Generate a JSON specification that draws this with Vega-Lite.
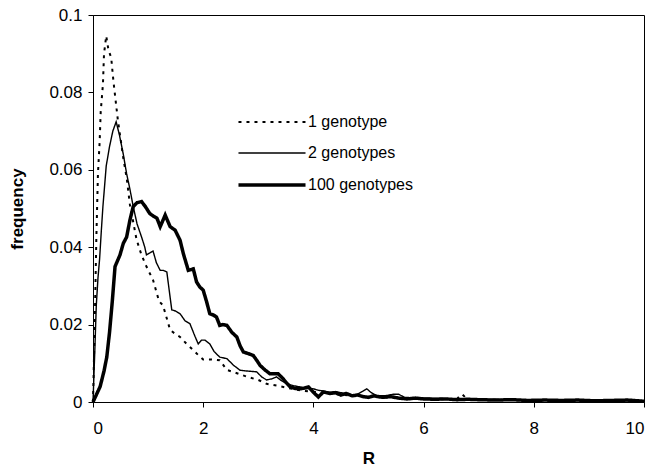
{
  "$schema": "https://vega.github.io/schema/vega-lite/v6.json",
  "autosize": "none",
  "padding": {"left": 93, "top": 15, "right": 24, "bottom": 72},
  "width": 551,
  "height": 387,
  "background": "white",
  "config": {
    "font": "Liberation Sans",
    "view": {"stroke": "black", "strokeWidth": 1},
    "axis": {"grid": false, "domainColor": "black", "tickColor": "black", "labelColor": "black", "titleColor": "black", "labelFont": "Liberation Sans", "titleFont": "Liberation Sans", "labelFontSize": 17, "titleFontSize": 17, "titleFontWeight": "bold", "tickSize": 5}
  },
  "data": {"values": [
    {"R":0,"f":0,"s":"1 genotype"},{"R":0.03,"f":0.019,"s":"1 genotype"},{"R":0.06,"f":0.042,"s":"1 genotype"},{"R":0.09,"f":0.059,"s":"1 genotype"},{"R":0.12,"f":0.067,"s":"1 genotype"},{"R":0.14,"f":0.075,"s":"1 genotype"},{"R":0.18,"f":0.082,"s":"1 genotype"},{"R":0.2,"f":0.09,"s":"1 genotype"},{"R":0.24,"f":0.0946,"s":"1 genotype"},{"R":0.28,"f":0.091,"s":"1 genotype"},{"R":0.33,"f":0.089,"s":"1 genotype"},{"R":0.37,"f":0.083,"s":"1 genotype"},{"R":0.41,"f":0.078,"s":"1 genotype"},{"R":0.45,"f":0.073,"s":"1 genotype"},{"R":0.55,"f":0.063,"s":"1 genotype"},{"R":0.61,"f":0.058,"s":"1 genotype"},{"R":0.67,"f":0.051,"s":"1 genotype"},{"R":0.79,"f":0.042,"s":"1 genotype"},{"R":0.88,"f":0.038,"s":"1 genotype"},{"R":0.97,"f":0.035,"s":"1 genotype"},{"R":1.09,"f":0.0315,"s":"1 genotype"},{"R":1.2,"f":0.026,"s":"1 genotype"},{"R":1.27,"f":0.025,"s":"1 genotype"},{"R":1.4,"f":0.0186,"s":"1 genotype"},{"R":1.5,"f":0.0175,"s":"1 genotype"},{"R":1.58,"f":0.0168,"s":"1 genotype"},{"R":1.7,"f":0.015,"s":"1 genotype"},{"R":1.82,"f":0.0134,"s":"1 genotype"},{"R":1.92,"f":0.012,"s":"1 genotype"},{"R":2.0,"f":0.011,"s":"1 genotype"},{"R":2.15,"f":0.011,"s":"1 genotype"},{"R":2.3,"f":0.0108,"s":"1 genotype"},{"R":2.43,"f":0.0083,"s":"1 genotype"},{"R":2.6,"f":0.0075,"s":"1 genotype"},{"R":2.8,"f":0.0065,"s":"1 genotype"},{"R":3.0,"f":0.0057,"s":"1 genotype"},{"R":3.15,"f":0.0047,"s":"1 genotype"},{"R":3.35,"f":0.0042,"s":"1 genotype"},{"R":3.55,"f":0.0036,"s":"1 genotype"},{"R":3.76,"f":0.003,"s":"1 genotype"},{"R":3.95,"f":0.0027,"s":"1 genotype"},{"R":4.15,"f":0.0024,"s":"1 genotype"},{"R":4.35,"f":0.0021,"s":"1 genotype"},{"R":4.55,"f":0.0018,"s":"1 genotype"},{"R":4.75,"f":0.0016,"s":"1 genotype"},{"R":4.95,"f":0.0014,"s":"1 genotype"},{"R":5.15,"f":0.0013,"s":"1 genotype"},{"R":5.4,"f":0.0011,"s":"1 genotype"},{"R":5.7,"f":0.001,"s":"1 genotype"},{"R":6.0,"f":0.0008,"s":"1 genotype"},{"R":6.3,"f":0.0007,"s":"1 genotype"},{"R":6.6,"f":0.0008,"s":"1 genotype"},{"R":6.7,"f":0.002,"s":"1 genotype"},{"R":6.8,"f":0.0006,"s":"1 genotype"},{"R":7.2,"f":0.0006,"s":"1 genotype"},{"R":7.6,"f":0.0005,"s":"1 genotype"},{"R":8.0,"f":0.0004,"s":"1 genotype"},{"R":8.5,"f":0.0004,"s":"1 genotype"},{"R":9.0,"f":0.0003,"s":"1 genotype"},{"R":9.5,"f":0.0003,"s":"1 genotype"},{"R":10,"f":0.0002,"s":"1 genotype"},

    {"R":0,"f":0,"s":"2 genotypes"},{"R":0.03,"f":0.012,"s":"2 genotypes"},{"R":0.06,"f":0.025,"s":"2 genotypes"},{"R":0.09,"f":0.032,"s":"2 genotypes"},{"R":0.12,"f":0.037,"s":"2 genotypes"},{"R":0.15,"f":0.044,"s":"2 genotypes"},{"R":0.18,"f":0.0505,"s":"2 genotypes"},{"R":0.24,"f":0.061,"s":"2 genotypes"},{"R":0.3,"f":0.066,"s":"2 genotypes"},{"R":0.36,"f":0.07,"s":"2 genotypes"},{"R":0.42,"f":0.0724,"s":"2 genotypes"},{"R":0.48,"f":0.069,"s":"2 genotypes"},{"R":0.55,"f":0.064,"s":"2 genotypes"},{"R":0.61,"f":0.059,"s":"2 genotypes"},{"R":0.67,"f":0.055,"s":"2 genotypes"},{"R":0.73,"f":0.0505,"s":"2 genotypes"},{"R":0.8,"f":0.046,"s":"2 genotypes"},{"R":0.88,"f":0.0427,"s":"2 genotypes"},{"R":0.94,"f":0.04,"s":"2 genotypes"},{"R":0.97,"f":0.038,"s":"2 genotypes"},{"R":1.03,"f":0.0385,"s":"2 genotypes"},{"R":1.09,"f":0.039,"s":"2 genotypes"},{"R":1.15,"f":0.036,"s":"2 genotypes"},{"R":1.22,"f":0.034,"s":"2 genotypes"},{"R":1.28,"f":0.034,"s":"2 genotypes"},{"R":1.34,"f":0.0336,"s":"2 genotypes"},{"R":1.4,"f":0.027,"s":"2 genotypes"},{"R":1.43,"f":0.0238,"s":"2 genotypes"},{"R":1.5,"f":0.0235,"s":"2 genotypes"},{"R":1.58,"f":0.0228,"s":"2 genotypes"},{"R":1.67,"f":0.021,"s":"2 genotypes"},{"R":1.76,"f":0.0202,"s":"2 genotypes"},{"R":1.85,"f":0.017,"s":"2 genotypes"},{"R":1.91,"f":0.015,"s":"2 genotypes"},{"R":1.97,"f":0.016,"s":"2 genotypes"},{"R":2.03,"f":0.016,"s":"2 genotypes"},{"R":2.12,"f":0.015,"s":"2 genotypes"},{"R":2.2,"f":0.013,"s":"2 genotypes"},{"R":2.3,"f":0.0116,"s":"2 genotypes"},{"R":2.43,"f":0.0112,"s":"2 genotypes"},{"R":2.55,"f":0.0095,"s":"2 genotypes"},{"R":2.67,"f":0.0082,"s":"2 genotypes"},{"R":2.8,"f":0.008,"s":"2 genotypes"},{"R":2.97,"f":0.0078,"s":"2 genotypes"},{"R":3.06,"f":0.0065,"s":"2 genotypes"},{"R":3.15,"f":0.0057,"s":"2 genotypes"},{"R":3.25,"f":0.006,"s":"2 genotypes"},{"R":3.33,"f":0.0065,"s":"2 genotypes"},{"R":3.42,"f":0.0055,"s":"2 genotypes"},{"R":3.52,"f":0.0047,"s":"2 genotypes"},{"R":3.64,"f":0.0042,"s":"2 genotypes"},{"R":3.76,"f":0.0039,"s":"2 genotypes"},{"R":3.88,"f":0.0035,"s":"2 genotypes"},{"R":4.0,"f":0.0034,"s":"2 genotypes"},{"R":4.1,"f":0.003,"s":"2 genotypes"},{"R":4.2,"f":0.0028,"s":"2 genotypes"},{"R":4.3,"f":0.0025,"s":"2 genotypes"},{"R":4.4,"f":0.0027,"s":"2 genotypes"},{"R":4.5,"f":0.0024,"s":"2 genotypes"},{"R":4.6,"f":0.0022,"s":"2 genotypes"},{"R":4.7,"f":0.0018,"s":"2 genotypes"},{"R":4.8,"f":0.002,"s":"2 genotypes"},{"R":4.9,"f":0.0028,"s":"2 genotypes"},{"R":4.97,"f":0.0034,"s":"2 genotypes"},{"R":5.05,"f":0.0024,"s":"2 genotypes"},{"R":5.15,"f":0.0016,"s":"2 genotypes"},{"R":5.3,"f":0.0016,"s":"2 genotypes"},{"R":5.45,"f":0.002,"s":"2 genotypes"},{"R":5.55,"f":0.002,"s":"2 genotypes"},{"R":5.65,"f":0.0012,"s":"2 genotypes"},{"R":5.8,"f":0.0011,"s":"2 genotypes"},{"R":6.0,"f":0.001,"s":"2 genotypes"},{"R":6.3,"f":0.0009,"s":"2 genotypes"},{"R":6.6,"f":0.0008,"s":"2 genotypes"},{"R":7.0,"f":0.0007,"s":"2 genotypes"},{"R":7.5,"f":0.0006,"s":"2 genotypes"},{"R":8.0,"f":0.0005,"s":"2 genotypes"},{"R":8.5,"f":0.0004,"s":"2 genotypes"},{"R":9.0,"f":0.0004,"s":"2 genotypes"},{"R":9.5,"f":0.0003,"s":"2 genotypes"},{"R":10,"f":0.0003,"s":"2 genotypes"},

    {"R":0,"f":0,"s":"100 genotypes"},{"R":0.13,"f":0.004,"s":"100 genotypes"},{"R":0.2,"f":0.008,"s":"100 genotypes"},{"R":0.25,"f":0.0116,"s":"100 genotypes"},{"R":0.3,"f":0.018,"s":"100 genotypes"},{"R":0.35,"f":0.026,"s":"100 genotypes"},{"R":0.4,"f":0.035,"s":"100 genotypes"},{"R":0.49,"f":0.038,"s":"100 genotypes"},{"R":0.55,"f":0.041,"s":"100 genotypes"},{"R":0.61,"f":0.0426,"s":"100 genotypes"},{"R":0.67,"f":0.047,"s":"100 genotypes"},{"R":0.73,"f":0.0505,"s":"100 genotypes"},{"R":0.8,"f":0.0515,"s":"100 genotypes"},{"R":0.88,"f":0.0518,"s":"100 genotypes"},{"R":0.95,"f":0.0505,"s":"100 genotypes"},{"R":1.03,"f":0.0487,"s":"100 genotypes"},{"R":1.1,"f":0.048,"s":"100 genotypes"},{"R":1.16,"f":0.0475,"s":"100 genotypes"},{"R":1.22,"f":0.0453,"s":"100 genotypes"},{"R":1.31,"f":0.0483,"s":"100 genotypes"},{"R":1.4,"f":0.0453,"s":"100 genotypes"},{"R":1.49,"f":0.0444,"s":"100 genotypes"},{"R":1.58,"f":0.0418,"s":"100 genotypes"},{"R":1.64,"f":0.0383,"s":"100 genotypes"},{"R":1.73,"f":0.034,"s":"100 genotypes"},{"R":1.82,"f":0.0344,"s":"100 genotypes"},{"R":1.88,"f":0.031,"s":"100 genotypes"},{"R":1.94,"f":0.0297,"s":"100 genotypes"},{"R":2.0,"f":0.0289,"s":"100 genotypes"},{"R":2.06,"f":0.026,"s":"100 genotypes"},{"R":2.12,"f":0.0228,"s":"100 genotypes"},{"R":2.18,"f":0.0225,"s":"100 genotypes"},{"R":2.24,"f":0.022,"s":"100 genotypes"},{"R":2.3,"f":0.0198,"s":"100 genotypes"},{"R":2.36,"f":0.02,"s":"100 genotypes"},{"R":2.43,"f":0.0198,"s":"100 genotypes"},{"R":2.52,"f":0.018,"s":"100 genotypes"},{"R":2.61,"f":0.0168,"s":"100 genotypes"},{"R":2.67,"f":0.0145,"s":"100 genotypes"},{"R":2.73,"f":0.0129,"s":"100 genotypes"},{"R":2.82,"f":0.0125,"s":"100 genotypes"},{"R":2.91,"f":0.012,"s":"100 genotypes"},{"R":2.97,"f":0.0108,"s":"100 genotypes"},{"R":3.03,"f":0.0095,"s":"100 genotypes"},{"R":3.12,"f":0.0083,"s":"100 genotypes"},{"R":3.21,"f":0.0073,"s":"100 genotypes"},{"R":3.36,"f":0.0073,"s":"100 genotypes"},{"R":3.45,"f":0.006,"s":"100 genotypes"},{"R":3.52,"f":0.0048,"s":"100 genotypes"},{"R":3.58,"f":0.0039,"s":"100 genotypes"},{"R":3.67,"f":0.0035,"s":"100 genotypes"},{"R":3.76,"f":0.0034,"s":"100 genotypes"},{"R":3.84,"f":0.0036,"s":"100 genotypes"},{"R":3.91,"f":0.0039,"s":"100 genotypes"},{"R":4.0,"f":0.0025,"s":"100 genotypes"},{"R":4.09,"f":0.0013,"s":"100 genotypes"},{"R":4.18,"f":0.0026,"s":"100 genotypes"},{"R":4.3,"f":0.0022,"s":"100 genotypes"},{"R":4.4,"f":0.0024,"s":"100 genotypes"},{"R":4.5,"f":0.0018,"s":"100 genotypes"},{"R":4.6,"f":0.0022,"s":"100 genotypes"},{"R":4.7,"f":0.0016,"s":"100 genotypes"},{"R":4.8,"f":0.0018,"s":"100 genotypes"},{"R":4.9,"f":0.0014,"s":"100 genotypes"},{"R":5.0,"f":0.0012,"s":"100 genotypes"},{"R":5.1,"f":0.0016,"s":"100 genotypes"},{"R":5.25,"f":0.0012,"s":"100 genotypes"},{"R":5.4,"f":0.0014,"s":"100 genotypes"},{"R":5.55,"f":0.001,"s":"100 genotypes"},{"R":5.7,"f":0.0008,"s":"100 genotypes"},{"R":5.85,"f":0.001,"s":"100 genotypes"},{"R":6.0,"f":0.0008,"s":"100 genotypes"},{"R":6.2,"f":0.0007,"s":"100 genotypes"},{"R":6.4,"f":0.0008,"s":"100 genotypes"},{"R":6.6,"f":0.0006,"s":"100 genotypes"},{"R":6.8,"f":0.0007,"s":"100 genotypes"},{"R":7.0,"f":0.0006,"s":"100 genotypes"},{"R":7.3,"f":0.0005,"s":"100 genotypes"},{"R":7.6,"f":0.0006,"s":"100 genotypes"},{"R":7.9,"f":0.0004,"s":"100 genotypes"},{"R":8.2,"f":0.0005,"s":"100 genotypes"},{"R":8.5,"f":0.0004,"s":"100 genotypes"},{"R":8.8,"f":0.0005,"s":"100 genotypes"},{"R":9.1,"f":0.0003,"s":"100 genotypes"},{"R":9.4,"f":0.0004,"s":"100 genotypes"},{"R":9.7,"f":0.0005,"s":"100 genotypes"},{"R":10,"f":0.0002,"s":"100 genotypes"}
  ]},
  "mark": {"type": "line", "color": "black", "strokeCap": "butt", "strokeJoin": "miter"},
  "encoding": {
    "x": {"field": "R", "type": "quantitative", "title": "R", "scale": {"domain": [0, 10], "nice": false}, "axis": {"values": [0, 2, 4, 6, 8, 10], "labelPadding": 13, "titlePadding": 14}},
    "y": {"field": "f", "type": "quantitative", "title": "frequency", "scale": {"domain": [0, 0.1], "nice": false}, "axis": {"values": [0, 0.02, 0.04, 0.06, 0.08, 0.1], "format": "~g", "labelPadding": 6, "titlePadding": 22}},
    "detail": {"field": "s"},
    "order": {"field": "R", "type": "quantitative"},
    "strokeDash": {"field": "s", "type": "nominal", "scale": {"domain": ["1 genotype", "2 genotypes", "100 genotypes"], "range": [[3, 5], [1, 0], [1, 0]]},
      "legend": {"title": null, "orient": "none", "legendX": 161, "legendY": 90, "symbolType": "M-2.12,0H2.12", "symbolSize": 1000, "symbolStrokeColor": "black", "labelFontSize": 16, "labelFont": "Liberation Sans", "labelColor": "black", "labelOffset": 18, "rowPadding": 6}},
    "strokeWidth": {"field": "s", "type": "nominal", "scale": {"type": "ordinal", "domain": ["1 genotype", "2 genotypes", "100 genotypes"], "range": [2, 1.4, 3.5]}, "legend": {"title": null, "orient": "none", "legendX": 161, "legendY": 90, "symbolType": "M-2.12,0H2.12", "symbolSize": 1000, "symbolStrokeColor": "black", "labelFontSize": 16, "labelFont": "Liberation Sans", "labelColor": "black", "labelOffset": 18, "rowPadding": 6}}
  }
}
